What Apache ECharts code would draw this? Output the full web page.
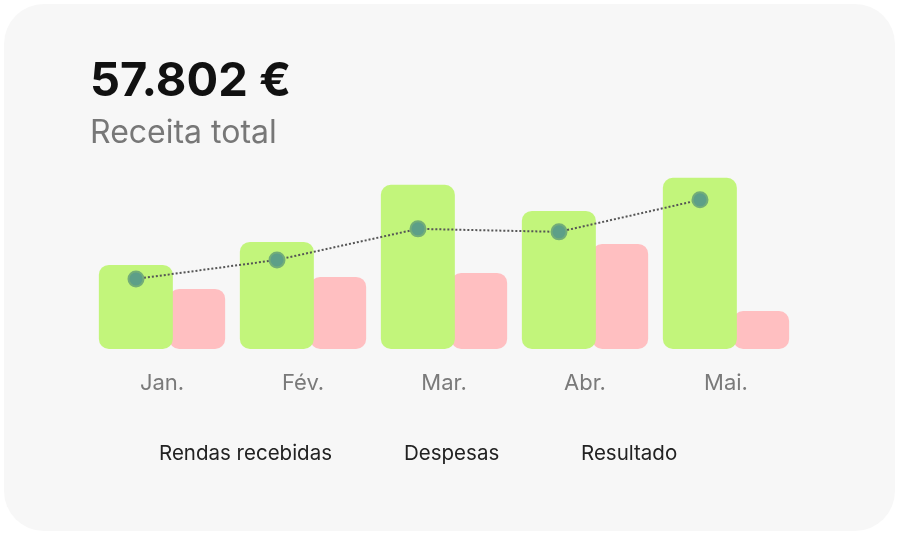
<!DOCTYPE html>
<html>
<head>
<meta charset="utf-8">
<script src="https://cdn.jsdelivr.net/npm/echarts@6/dist/echarts.min.js"></script>
<style>
html,body{margin:0;padding:0;background:#ffffff;}
#chart{width:900px;height:535px;}
</style>
</head>
<body>
<div id="chart"></div>
<script>
const months = ['Jan.', 'Fév.', 'Mar.', 'Abr.', 'Mai.'];
const rendas = [7310, 9315, 14280, 12010, 14887];
const despesas = [5223, 6268, 6616, 9140, 3308];
const resultado = [6094, 7747, 10446, 10185, 12970];
const seriesNames = ['Rendas recebidas', 'Despesas', 'Resultado'];
const totalLabel = '57.802 €';
const subtitle = 'Receita total';

const chart = echarts.init(document.getElementById('chart'), null, {renderer: 'canvas'});
const FONT = 'Inter';
const yMax = 20000;
const legendLefts = [159, 404, 580];

chart.setOption({
  backgroundColor: '#ffffff',
  animation: false,
  graphic: [{
    type: 'rect', z: -10, silent: true,
    shape: {x: 4, y: 4, width: 891, height: 527, r: 40},
    style: {fill: '#f7f7f7'}
  }],
  title: {
    text: totalLabel,
    subtext: subtitle,
    left: 85, top: 53,
    itemGap: 12,
    textStyle: {fontFamily: FONT, fontSize: 47, fontWeight: 700, color: '#111111'},
    subtextStyle: {fontFamily: FONT, fontSize: 32, fontWeight: 400, color: '#777777'}
  },
  legend: seriesNames.map(function (n, i) {
    return {
      data: [n],
      top: 438, left: legendLefts[i] - 10,
      itemWidth: 0, itemHeight: 0,
      icon: 'rect',
      textStyle: {fontFamily: FONT, fontSize: 20.5, color: '#222222', padding: [0,0,0,0]}
    };
  }),
  grid: [
    {left: 91.5, right: 103.5, top: 119, bottom: 186},
    {left: 65.5, right: 129.5, top: 119, bottom: 186}
  ],
  xAxis: [
    {type: 'category', data: months, gridIndex: 0,
     axisLine: {show: false}, axisTick: {show: false},
     axisLabel: {fontFamily: FONT, fontSize: 22, color: '#7a7a7a', margin: 23}},
    {type: 'category', data: months, gridIndex: 1, show: false}
  ],
  yAxis: [
    {type: 'value', min: 0, max: yMax, gridIndex: 0, show: false, splitLine: {show: false}},
    {type: 'value', min: 0, max: yMax, gridIndex: 1, show: false, splitLine: {show: false}}
  ],
  series: [
    {name: seriesNames[0], type: 'bar', data: rendas, xAxisIndex: 0, yAxisIndex: 0,
     barWidth: 74, barGap: '-5%', z: 3,
     itemStyle: {color: '#c2f57b', borderRadius: 10}},
    {name: seriesNames[1], type: 'bar', data: despesas, xAxisIndex: 0, yAxisIndex: 0,
     barWidth: 56, z: 2,
     itemStyle: {color: '#ffbfc1', borderRadius: 10}},
    {name: seriesNames[2], type: 'line', data: resultado, xAxisIndex: 1, yAxisIndex: 1,
     z: 5, symbol: 'circle', symbolSize: 15,
     lineStyle: {type: 'dotted', color: '#555555', width: 2},
     itemStyle: {color: '#5d9f88', borderColor: '#73ad78', borderWidth: 2}}
  ]
});
</script>
</body>
</html>
